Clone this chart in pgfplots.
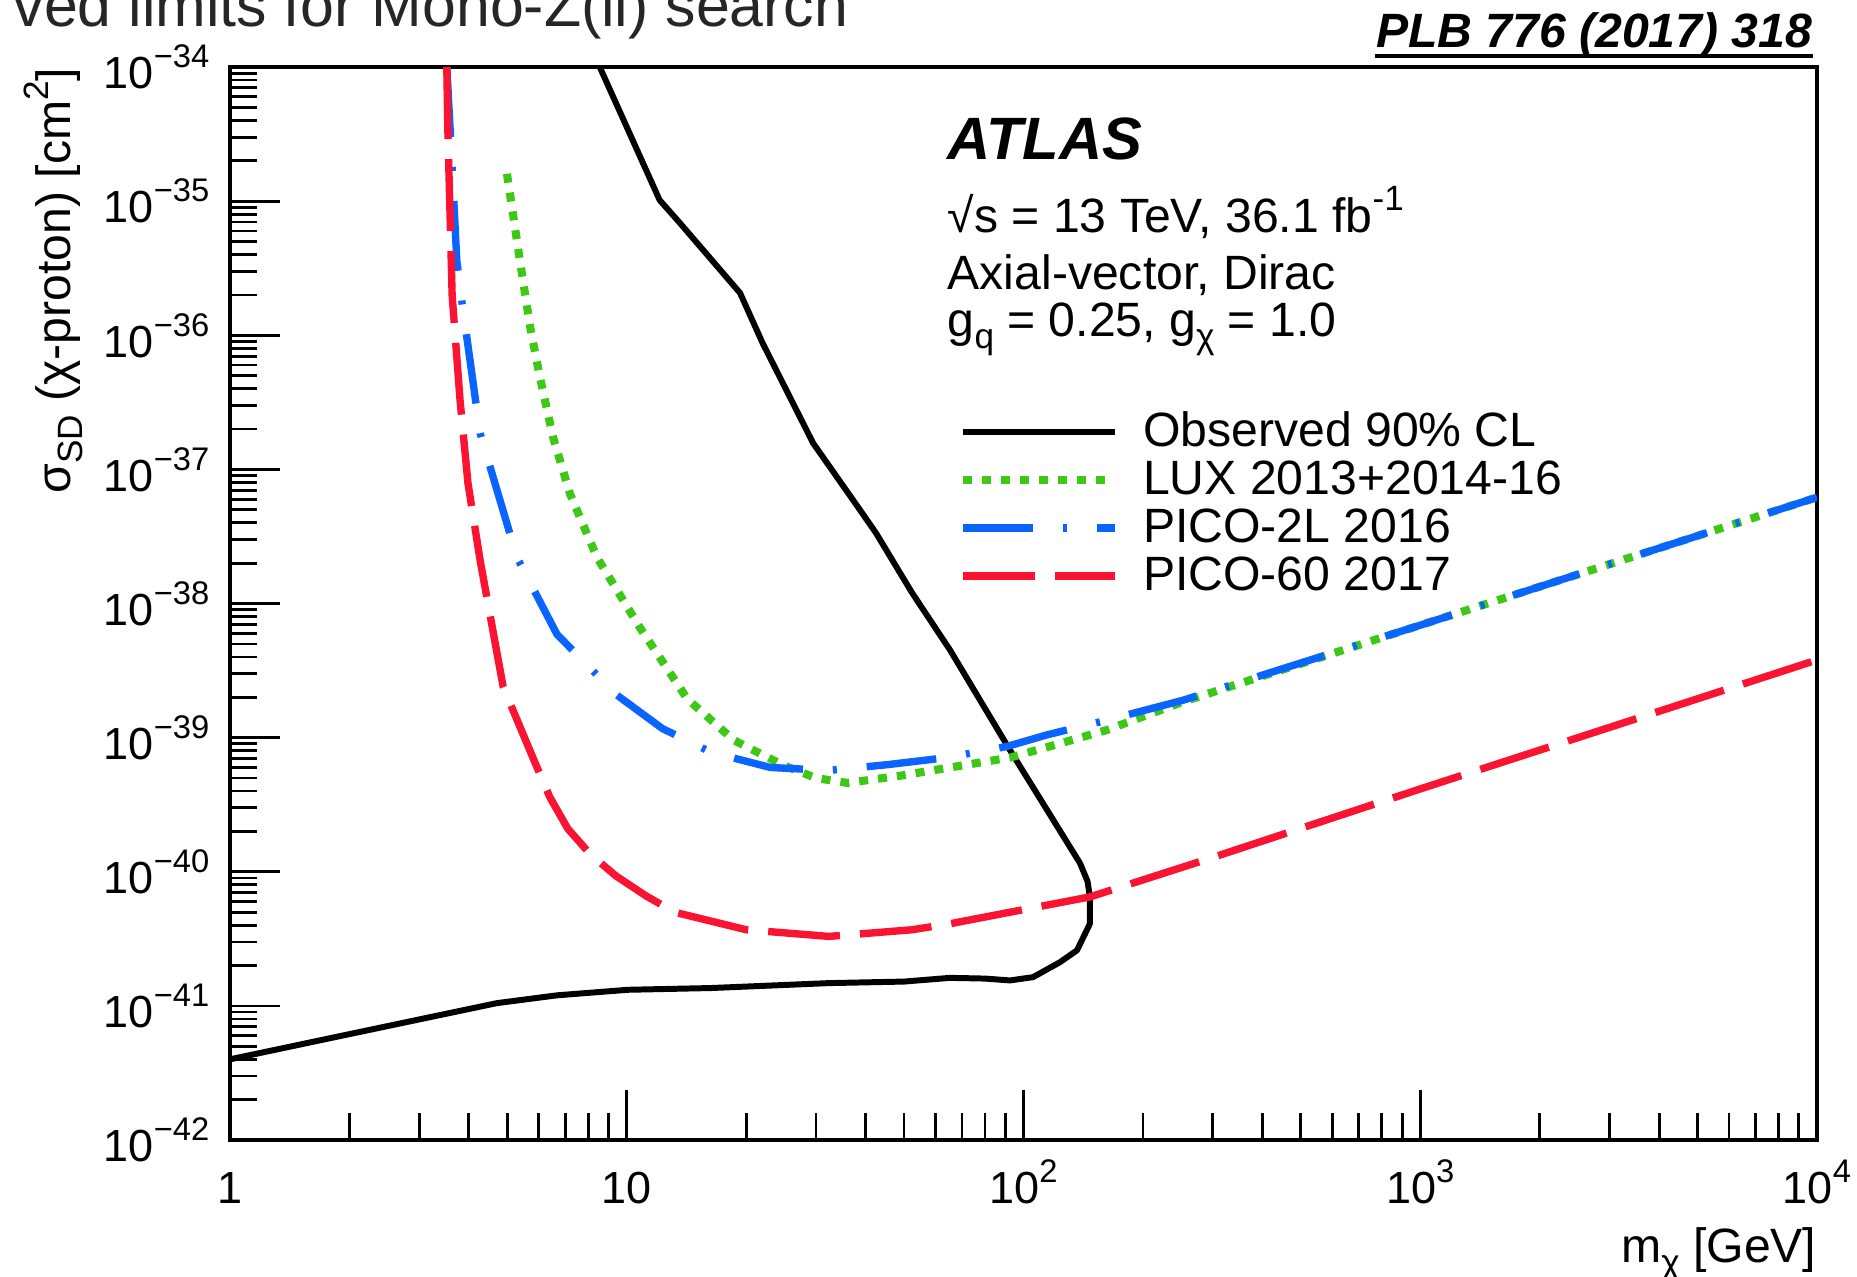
\documentclass[border=0pt]{standalone}
\usepackage{fontspec}
\setmainfont{Liberation Sans}
\usepackage{pgfplots}
\pgfplotsset{compat=1.18}
\definecolor{luxgreen}{RGB}{60,200,20}
\definecolor{picoblue}{RGB}{10,100,255}
\definecolor{picored}{RGB}{250,20,50}
\newcommand\sups[2][0.22cm]{\raisebox{#1}{\fontsize{10}{10}\selectfont #2}}
\newcommand\tsups[1]{\raisebox{0.21cm}{\fontsize{9.3}{9.3}\selectfont #1}}
\newcommand\subs[2][-0.12cm]{\raisebox{#1}{\fontsize{10}{10}\selectfont #2}}
\begin{document}
\begin{tikzpicture}[x=1cm,y=1cm,font=\fontsize{13.7}{16}\selectfont]
\path[use as bounding box] (0,0) rectangle (18.57,12.76);
\begin{scope}
\clip (0,0) rectangle (18.57,12.76);
\node[anchor=base west, inner sep=0pt, font=\fontsize{17.3}{20}\selectfont, text=black!85] at (0.13,12.49) {ved limits for Mono-Z(ll) search};
\end{scope}
\begin{axis}[
  at={(2.30cm,1.36cm)}, anchor=south west,
  scale only axis, width=15.87cm, height=10.73cm,
  xmode=log, ymode=log,
  xmin=1, xmax=10000, ymin=1e-42, ymax=1e-34,
  axis line style={line width=1pt},
  xtick pos=bottom, ytick pos=left, tick align=inside,
  major tick length=0.5cm, minor tick length=0.27cm,
  every tick/.style={black, line width=0.8pt},
  tick label style={font=\fontsize{12.8}{14}\selectfont},
  xtick={1,10,100,1000,10000},
  xticklabels={1,10,10\tsups{2},10\tsups{3},10\tsups{4}},
  minor xtick={2,3,4,5,6,7,8,9,20,30,40,50,60,70,80,90,200,300,400,500,600,700,800,900,2000,3000,4000,5000,6000,7000,8000,9000},
  ytick={1e-42,1e-41,1e-40,1e-39,1e-38,1e-37,1e-36,1e-35,1e-34},
  yticklabels={10\tsups{−42},10\tsups{−41},10\tsups{−40},10\tsups{−39},10\tsups{−38},10\tsups{−37},10\tsups{−36},10\tsups{−35},10\tsups{−34}},
  minor ytick={2e-42,3e-42,4e-42,5e-42,6e-42,7e-42,8e-42,9e-42,
    2e-41,3e-41,4e-41,5e-41,6e-41,7e-41,8e-41,9e-41,
    2e-40,3e-40,4e-40,5e-40,6e-40,7e-40,8e-40,9e-40,
    2e-39,3e-39,4e-39,5e-39,6e-39,7e-39,8e-39,9e-39,
    2e-38,3e-38,4e-38,5e-38,6e-38,7e-38,8e-38,9e-38,
    2e-37,3e-37,4e-37,5e-37,6e-37,7e-37,8e-37,9e-37,
    2e-36,3e-36,4e-36,5e-36,6e-36,7e-36,8e-36,9e-36,
    2e-35,3e-35,4e-35,5e-35,6e-35,7e-35,8e-35,9e-35},
  xticklabel style={anchor=base, inner sep=0pt, yshift=-0.63cm},
  yticklabel style={anchor=east, inner sep=0pt, xshift=-0.2cm},
  xlabel={m\subs{χ} [GeV]},
  ylabel={σ\subs{SD} (χ-proton) [cm\sups{2}]},
  xlabel style={at={(axis description cs:1,-0.1137)}, anchor=base east, inner sep=0pt},
  ylabel style={at={(axis description cs:-0.1008,1)}, anchor=base east, inner sep=0pt},
  legend style={at={(axis description cs:0.4594,0.6785)}, anchor=north west, draw=none, fill=none,
    inner sep=0pt, outer sep=0pt, row sep=0pt, column sep=0.24cm,
    nodes={inner sep=0pt, text height=0.34cm, text depth=0.14cm}},
  legend cell align=left,
  legend image code/.code={\draw[#1] (0cm,0.04cm) -- (1.52cm,0.04cm);},
]
\addplot[black, line width=1.7pt, line join=round] coordinates {
(8.55,1e-34) (12.1,1.02e-35) (13.6,6.9e-36) (19.3,2.07e-36) (22.0,8.75e-37)
(29.5,1.57e-37) (38.7,5.0e-38) (42.5,3.35e-38) (52.4,1.2e-38) (65.3,4.5e-39)
(92.4,8.1e-40) (138.8,1.16e-40) (145,8.5e-41) (147,6.5e-41) (147,4.1e-41)
(136.4,2.6e-41) (123.6,2.12e-41) (105.7,1.64e-41) (92.4,1.55e-41) (80,1.6e-41)
(65.3,1.62e-41) (50,1.52e-41) (32.3,1.48e-41) (16.3,1.36e-41) (10.07,1.32e-41)
(6.67,1.2e-41) (4.71,1.05e-41) (3.35,8.5e-42) (2.07,6.3e-42) (1,4.0e-42)
};
\addlegendentry{Observed 90\% CL}
\addplot[luxgreen, line width=2.3pt, dash pattern=on 0.09cm off 0.1cm] coordinates {
(4.99,1.6e-35) (5.38,3.6e-36) (5.71,1.15e-36) (6.04,4.9e-37) (6.52,1.74e-37)
(7.19,6.6e-38) (8.42,2.2e-38) (10.8,6.6e-39) (14.2,1.95e-39) (18.6,9.6e-40)
(24.6,6.3e-40) (30,5.0e-40) (36,4.6e-40) (48.8,5.2e-40) (65.3,6.0e-40)
(92.4,7.1e-40) (114.6,8.5e-40) (162,1.14e-39) (252,1.85e-39) (1000,6.9e-39)
(10000,6.2e-38)
};
\addlegendentry{LUX 2013+2014-16}
\addplot[picoblue, line width=2.1pt, dash pattern=on 0.7cm off 0.3cm on 0.04cm off 0.3cm] coordinates {
(3.52,1e-34) (3.63,1.8e-35) (3.73,3.6e-36) (3.84,1.8e-36) (4.27,1.86e-37)
(5.29,2.2e-38) (6.67,5.9e-39) (9.4,2.1e-39) (12.3,1.17e-39) (16.3,7.8e-40)
(23,6.0e-40) (32.3,5.7e-40) (45.5,6.3e-40) (64,7.1e-40) (90.8,8.6e-40)
(114.6,1.05e-39) (162,1.35e-39) (252,1.9e-39) (1000,6.9e-39) (10000,6.2e-38)
};
\addlegendentry{PICO-2L 2016}
\addplot[picored, line width=2.1pt, dash pattern=on 0.72cm off 0.2cm] coordinates {
(3.52,1e-34) (3.54,3.5e-35) (3.63,2.0e-36) (3.80,3.3e-37) (3.98,7.9e-38)
(4.27,2.1e-38) (4.88,2.4e-39) (5.8,7.1e-40) (6.4,3.6e-40) (7.1,2.1e-40) (8.1,1.35e-40) (9.4,9.3e-41)
(11.2,6.6e-41) (13.2,5.0e-41) (20,3.7e-41) (32.3,3.3e-41) (52.4,3.7e-41) (65.3,4.1e-41)
(90.8,4.95e-41) (147,6.5e-41) (300,1.28e-40) (1000,4.15e-40) (10000,3.8e-39)
};
\addlegendentry{PICO-60 2017}
\end{axis}
\node[anchor=base west, inner sep=0pt, font=\bfseries\itshape\fontsize{17}{20}\selectfont] at (9.47,11.16) {ATLAS};
\node[anchor=base west, inner sep=0pt] at (9.47,10.43) {√s = 13 TeV, 36.1 fb\sups{-1}};
\node[anchor=base west, inner sep=0pt] at (9.47,9.86) {Axial-vector, Dirac};
\node[anchor=base west, inner sep=0pt] at (9.47,9.39) {g\subs{q} = 0.25, g\subs{χ} = 1.0};
\node[anchor=base east, inner sep=0pt, font=\bfseries\itshape\fontsize{13.7}{16}\selectfont] (plb) at (18.13,12.28) {PLB 776 (2017) 318};
\draw[line width=0.035cm] ([yshift=-0.08cm]plb.base west) -- ([yshift=-0.08cm]plb.base east);
\end{tikzpicture}
\end{document}
